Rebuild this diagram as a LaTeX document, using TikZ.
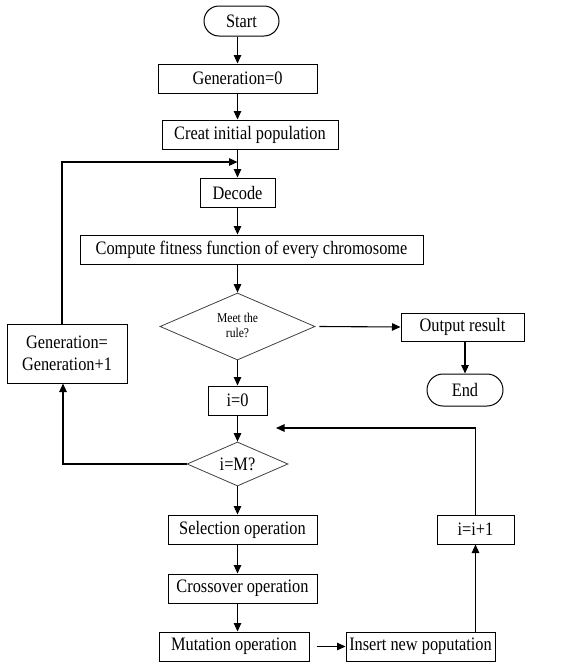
\documentclass[tikz,border=0pt]{standalone}
\usepackage{fontspec}
\setmainfont{Liberation Serif}
\newfontfamily\cfnt[FakeStretch=0.86]{Liberation Serif}
\usetikzlibrary{shapes.geometric,arrows.meta}
\begin{document}
\begin{tikzpicture}[x=1pt,y=-1pt,
  box/.style={draw,rectangle,inner sep=0pt,line width=1pt,font=\cfnt\fontsize{19}{19}\selectfont},
  term/.style={draw,rectangle,rounded corners=15pt,inner sep=0pt,line width=1pt,font=\cfnt\fontsize{19}{19}\selectfont},
  arr/.style={-{Triangle[length=8.5pt,width=7.5pt]},line width=1.1pt}]
\useasboundingbox (0,0) rectangle (569,664);
\node[term,minimum width=75pt,minimum height=30pt] (start) at (241.5,21) {Start};
\node[box,minimum width=159pt,minimum height=29pt] (g0) at (237.5,78.5) {Generation=0};
\node[box,minimum width=176pt,minimum height=29pt] (init) at (250,134.5) {Creat initial\ population};
\node[box,minimum width=75pt,minimum height=29pt] (dec) at (237.5,192.5) {Decode};
\node[box,minimum width=343pt,minimum height=29pt] (fit) at (251.5,249.5) {Compute fitness function of every chromosome};
\node[draw=black!75,line width=0.8pt,inner sep=0pt,minimum width=155pt,minimum height=67pt,shape=diamond,shape aspect=2.3] (meet) at (237.5,326.5) {};
\node[font=\cfnt\fontsize{13.5}{15}\selectfont,align=center,inner sep=0pt] (meettxt) at (237.5,325) {Meet the\\rule?};
\node[box,minimum width=123pt,minimum height=28pt] (out) at (462.5,327) {Output result};
\node[term,minimum width=76pt,minimum height=32pt,rounded corners=16pt] (end) at (465,390) {End};
\node[box,minimum width=120pt,minimum height=59pt,align=center,font=\cfnt\fontsize{19}{22}\selectfont] (gen) at (67,353.5) {Generation=\\Generation+1};
\node[box,minimum width=59pt,minimum height=29pt] (i0) at (237.5,400.5) {i=0};
\node[draw=black!75,line width=0.8pt,inner sep=0pt,minimum width=101pt,minimum height=44pt,shape=diamond,shape aspect=2.3] (im) at (237.5,464) {};
\node[font=\cfnt\fontsize{19}{19}\selectfont] (imtxt) at (237.5,464) {i=M?};
\node[box,minimum width=149pt,minimum height=29pt] (sel) at (242.5,529.5) {Selection\ operation};
\node[box,minimum width=149pt,minimum height=29pt] (cro) at (242.5,588.5) {Crossover operation};
\node[box,minimum width=150pt,minimum height=29pt] (mut) at (234,646.5) {Mutation operation};
\node[box,minimum width=149pt,minimum height=29pt] (ins) at (420.5,646.5) {Insert new poputation};
\node[box,minimum width=77pt,minimum height=29pt] (ii) at (475.5,529.5) {i=i+1};
\coordinate (loopin) at (237.5,162);
\coordinate (loopret) at (276,428);
\draw[arr] (start.south -| g0) -- (g0);
\draw[arr] (g0) -- (init.north -| g0);
\draw[arr] (init.south -| dec) -- (dec);
\draw[arr] (dec) -- (fit.north -| dec);
\draw[arr] (fit.south -| meet) -- (meet);
\draw[arr] (meet.east) ++(4,0) -- (out.west);
\draw[arr] (out.south -| end) -- (end);
\draw[arr] (meet) -- (i0);
\draw[arr] (i0) -- (im);
\draw[arr] (im) -- (sel.north -| im);
\draw[arr] (sel.south -| im) -- (cro.north -| im);
\draw[arr] (cro.south -| im) -- (mut.north -| im);
\draw[arr] (mut.east) ++(7,0) -- (ins.west);
\draw[arr] (ins.north -| ii) -- (ii);
\draw[arr] (ii) |- (loopret);
\draw[arr] (im.west) -| (gen.south -| 63,0);
\draw[arr] (gen.north -| 62,0) |- (loopin);
\end{tikzpicture}
\end{document}
